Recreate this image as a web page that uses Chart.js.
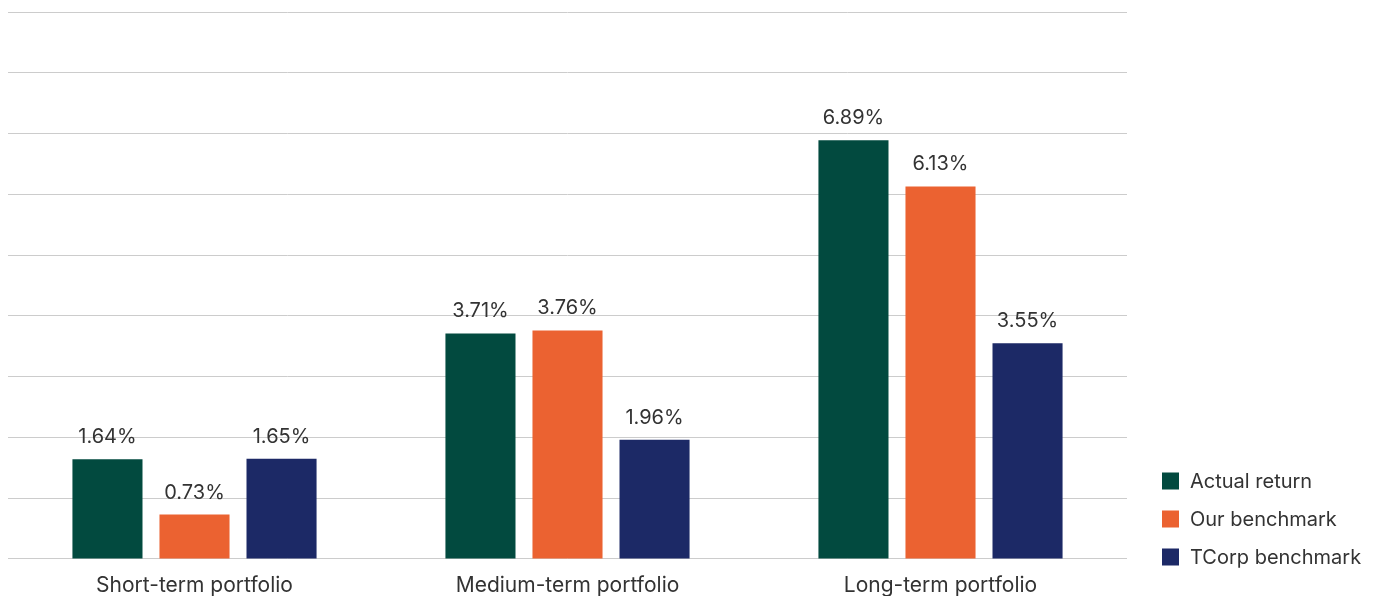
<!DOCTYPE html>
<html>
<head>
<meta charset="utf-8">
<script src="https://cdn.jsdelivr.net/npm/chart.js@4.4.1/dist/chart.umd.min.js"></script>
<style>
  html, body { margin: 0; padding: 0; background: #ffffff; }
  #wrap { width: 1380px; height: 596px; position: relative; }
</style>
</head>
<body>
<div id="wrap"><canvas id="chart" width="1380" height="596"></canvas></div>
<script>
// Portfolio returns by horizon (%)
const categories = ['Short-term portfolio', 'Medium-term portfolio', 'Long-term portfolio'];
const seriesNames = ['Actual return', 'Our benchmark', 'TCorp benchmark'];
const actualReturn = [1.64, 3.71, 6.89];
const ourBenchmark = [0.73, 3.76, 6.13];
const tcorpBenchmark = [1.65, 1.96, 3.55];
const seriesColors = ['#024A3F', '#EB6231', '#1C2966'];

const FONT = 'Inter, "Noto Sans", sans-serif';
const TEXT = '#333333';

// Value labels above each bar
const valueLabels = {
  id: 'valueLabels',
  afterDatasetsDraw(chart) {
    const ctx = chart.ctx;
    ctx.save();
    ctx.font = '20px ' + FONT;
    ctx.fillStyle = TEXT;
    ctx.textAlign = 'center';
    ctx.textBaseline = 'middle';
    chart.data.datasets.forEach((ds, i) => {
      chart.getDatasetMeta(i).data.forEach((bar, j) => {
        ctx.fillText(ds.data[j].toFixed(2) + '%', bar.x, bar.y - 22);
      });
    });
    ctx.restore();
  }
};

// Legend stacked at the lower right
const sideLegend = {
  id: 'sideLegend',
  afterDraw(chart) {
    const ctx = chart.ctx;
    ctx.save();
    ctx.font = '20px ' + FONT;
    ctx.textAlign = 'left';
    ctx.textBaseline = 'middle';
    chart.data.datasets.forEach((ds, i) => {
      const cy = 481 + i * 38;
      ctx.fillStyle = ds.backgroundColor;
      ctx.fillRect(1162, cy - 8.5, 17, 17);
      ctx.fillStyle = TEXT;
      ctx.fillText(ds.label, 1190, cy + 1);
    });
    ctx.restore();
  }
};

new Chart(document.getElementById('chart'), {
  type: 'bar',
  data: {
    labels: categories,
    datasets: [
      { label: seriesNames[0], data: actualReturn, backgroundColor: seriesColors[0] },
      { label: seriesNames[1], data: ourBenchmark, backgroundColor: seriesColors[1] },
      { label: seriesNames[2], data: tcorpBenchmark, backgroundColor: seriesColors[2] }
    ]
  },
  options: {
    responsive: false,
    animation: false,
    devicePixelRatio: 1,
    layout: { padding: { left: 8, right: 253, top: 12, bottom: -16 } },
    datasets: {
      bar: { categoryPercentage: 0.70, barPercentage: 0.805 }
    },
    plugins: {
      legend: { display: false },
      tooltip: { enabled: false }
    },
    scales: {
      x: {
        grid: { display: false, drawTicks: false },
        border: { display: false },
        ticks: { color: TEXT, font: { family: FONT, size: 21, lineHeight: 1.1 }, padding: 15 }
      },
      y: {
        min: 0,
        max: 9,
        ticks: { stepSize: 1, display: false },
        grid: { color: '#cccccc', lineWidth: 1, drawTicks: false },
        border: { display: false }
      }
    }
  },
  plugins: [valueLabels, sideLegend]
});
</script>
</body>
</html>
